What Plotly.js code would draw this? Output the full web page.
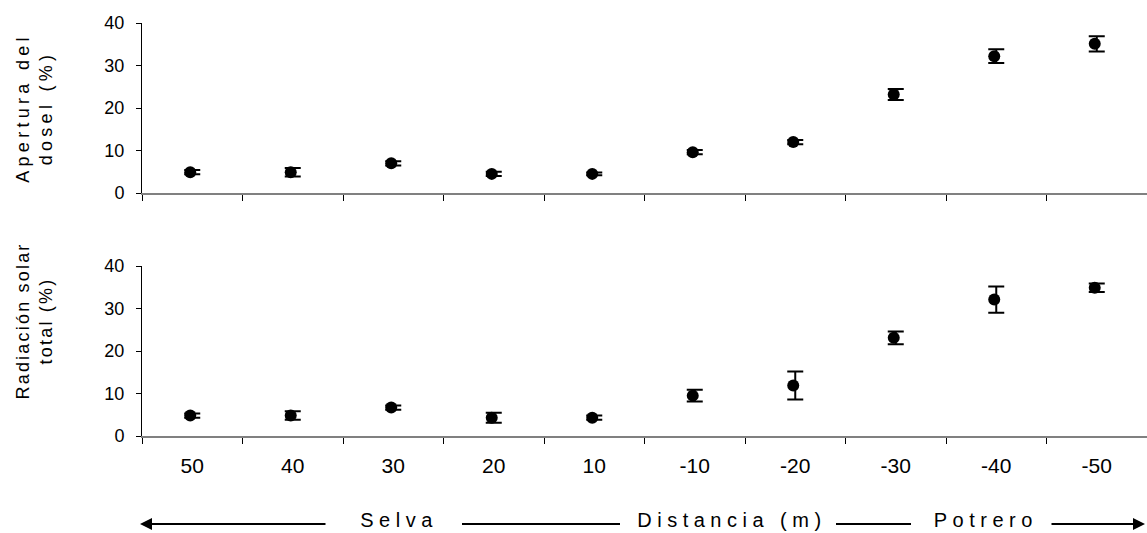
<!DOCTYPE html>
<html>
<head>
<meta charset="utf-8">
<script src="https://cdn.plot.ly/plotly-3.0.1.min.js"></script>
<style>
  html, body { margin: 0; padding: 0; background: #fff; }
  #chart { width: 1147px; height: 533px; }
  .annotation[data-index="0"] .annotation-text { letter-spacing: 4.3px; }
  .annotation[data-index="1"] .annotation-text { letter-spacing: 2.2px; }
  .annotation[data-index="2"] .annotation-text,
  .annotation[data-index="3"] .annotation-text,
  .annotation[data-index="4"] .annotation-text { letter-spacing: 5.5px; }
</style>
</head>
<body>
<div id="chart"></div>
<script>
// ---- data ----
var distancias = ['50', '40', '30', '20', '10', '-10', '-20', '-30', '-40', '-50'];
var apertura = [4.9, 4.9, 7.0, 4.5, 4.5, 9.6, 12.0, 23.2, 32.2, 35.1];
var aperturaErr = [0.5, 1.0, 0.5, 0.5, 0.3, 0.5, 0.5, 1.3, 1.6, 1.8];
var radiacion = [4.8, 4.8, 6.7, 4.3, 4.3, 9.5, 11.9, 23.1, 32.1, 34.9];
var radiacionErr = [0.5, 1.0, 0.5, 1.2, 0.5, 1.4, 3.3, 1.5, 3.1, 1.0];
var yTicks = [0, 10, 20, 30, 40];
var tituloApertura = 'Apertura del<br>dosel (%)';
var tituloRadiacion = 'Radiación solar<br>total (%)';
var etiquetas = ['Selva', 'Distancia (m)', 'Potrero'];

var FONT = 'Liberation Sans, Arial, sans-serif';

function errTrace(y, e, xa, ya) {
  return {
    type: 'scatter', mode: 'markers', x: distancias, y: y,
    xaxis: xa, yaxis: ya, hoverinfo: 'skip', showlegend: false,
    marker: {color: 'rgba(0,0,0,0)', size: 1},
    error_y: {type: 'data', array: e, visible: true, color: '#000', thickness: 2, width: 8}
  };
}
function ptTrace(y, xa, ya) {
  return {
    type: 'scatter', mode: 'markers', x: distancias, y: y,
    xaxis: xa, yaxis: ya, showlegend: false,
    marker: {color: '#000', size: 12, symbol: 'circle'}
  };
}

var data = [
  errTrace(apertura, aperturaErr, 'x', 'y'),
  errTrace(radiacion, radiacionErr, 'x2', 'y2'),
  ptTrace(apertura, 'x3', 'y'),
  ptTrace(radiacion, 'x4', 'y2')
];

function xBase(anchor, showLabels) {
  return {
    type: 'category', anchor: anchor, domain: [0, 1],
    range: [-0.5, 9.5], fixedrange: true,
    showline: true, linecolor: '#808080', linewidth: 2,
    ticks: 'outside', tickson: 'boundaries', ticklen: 6, tickcolor: '#000', tickwidth: 1,
    showgrid: false, zeroline: false,
    showticklabels: showLabels,
    tickfont: {family: FONT, size: 21, color: '#000'},
    ticklabelstandoff: 10
  };
}
function xOverlay(over, anchor) {
  return {
    type: 'category', overlaying: over, anchor: anchor,
    range: [-0.48, 9.52], visible: false, fixedrange: true
  };
}
function yBase(domain, anchor) {
  return {
    domain: domain, anchor: anchor, range: [0, 40],
    tickvals: yTicks, ticktext: yTicks.map(String),
    showline: true, linecolor: '#000', linewidth: 1,
    ticks: 'outside', ticklen: 5, tickcolor: '#000',
    showgrid: false, zeroline: false, fixedrange: true,
    tickfont: {family: FONT, size: 18, color: '#000'},
    ticklabelstandoff: 8
  };
}

// paper-coordinate helpers (plot area: x 142..1147, y 23..436)
function px(v) { return (v - 142) / 1005; }
function py(v) { return (436 - v) / 413; }

var ann = [
  {text: tituloApertura, xref: 'paper', yref: 'paper', x: px(34), y: py(108), textangle: -90,
   showarrow: false, xanchor: 'center', yanchor: 'middle',
   font: {family: FONT, size: 18, color: '#000'}},
  {text: tituloRadiacion, xref: 'paper', yref: 'paper', x: px(34), y: py(321), textangle: -90,
   showarrow: false, xanchor: 'center', yanchor: 'middle',
   font: {family: FONT, size: 18, color: '#000'}},
  {text: etiquetas[0], xref: 'paper', yref: 'paper', x: px(399), y: py(520), showarrow: false,
   xanchor: 'center', yanchor: 'middle', font: {family: FONT, size: 20, color: '#000'}},
  {text: etiquetas[1], xref: 'paper', yref: 'paper', x: px(732), y: py(520), showarrow: false,
   xanchor: 'center', yanchor: 'middle', font: {family: FONT, size: 20, color: '#000'}},
  {text: etiquetas[2], xref: 'paper', yref: 'paper', x: px(986), y: py(520), showarrow: false,
   xanchor: 'center', yanchor: 'middle', font: {family: FONT, size: 20, color: '#000'}},
  // arrows
  {text: '', xref: 'paper', yref: 'paper', x: px(140), y: py(524), ax: 187, ay: 0,
   showarrow: true, arrowhead: 2, arrowsize: 1.2, arrowwidth: 2, arrowcolor: '#000'},
  {text: '', xref: 'paper', yref: 'paper', x: px(1145), y: py(524), ax: -95, ay: 0,
   showarrow: true, arrowhead: 2, arrowsize: 1.2, arrowwidth: 2, arrowcolor: '#000'}
];

var shapes = [
  {type: 'line', xref: 'paper', yref: 'paper', x0: px(462), x1: px(620), y0: py(524), y1: py(524),
   line: {color: '#000', width: 2}},
  {type: 'line', xref: 'paper', yref: 'paper', x0: px(836), x1: px(911), y0: py(524), y1: py(524),
   line: {color: '#000', width: 2}}
];

var layout = {
  width: 1147, height: 533,
  margin: {l: 142, r: 0, t: 23, b: 97, pad: 0},
  paper_bgcolor: '#fff', plot_bgcolor: '#fff',
  showlegend: false,
  xaxis: xBase('y', false),
  xaxis2: xBase('y2', true),
  xaxis3: xOverlay('x', 'y'),
  xaxis4: xOverlay('x2', 'y2'),
  yaxis: yBase([(436 - 193) / 413, 1], 'x'),
  yaxis2: yBase([0, 170 / 413], 'x2'),
  annotations: ann,
  shapes: shapes
};

Plotly.newPlot('chart', data, layout, {displayModeBar: false, staticPlot: true});
</script>
</body>
</html>
